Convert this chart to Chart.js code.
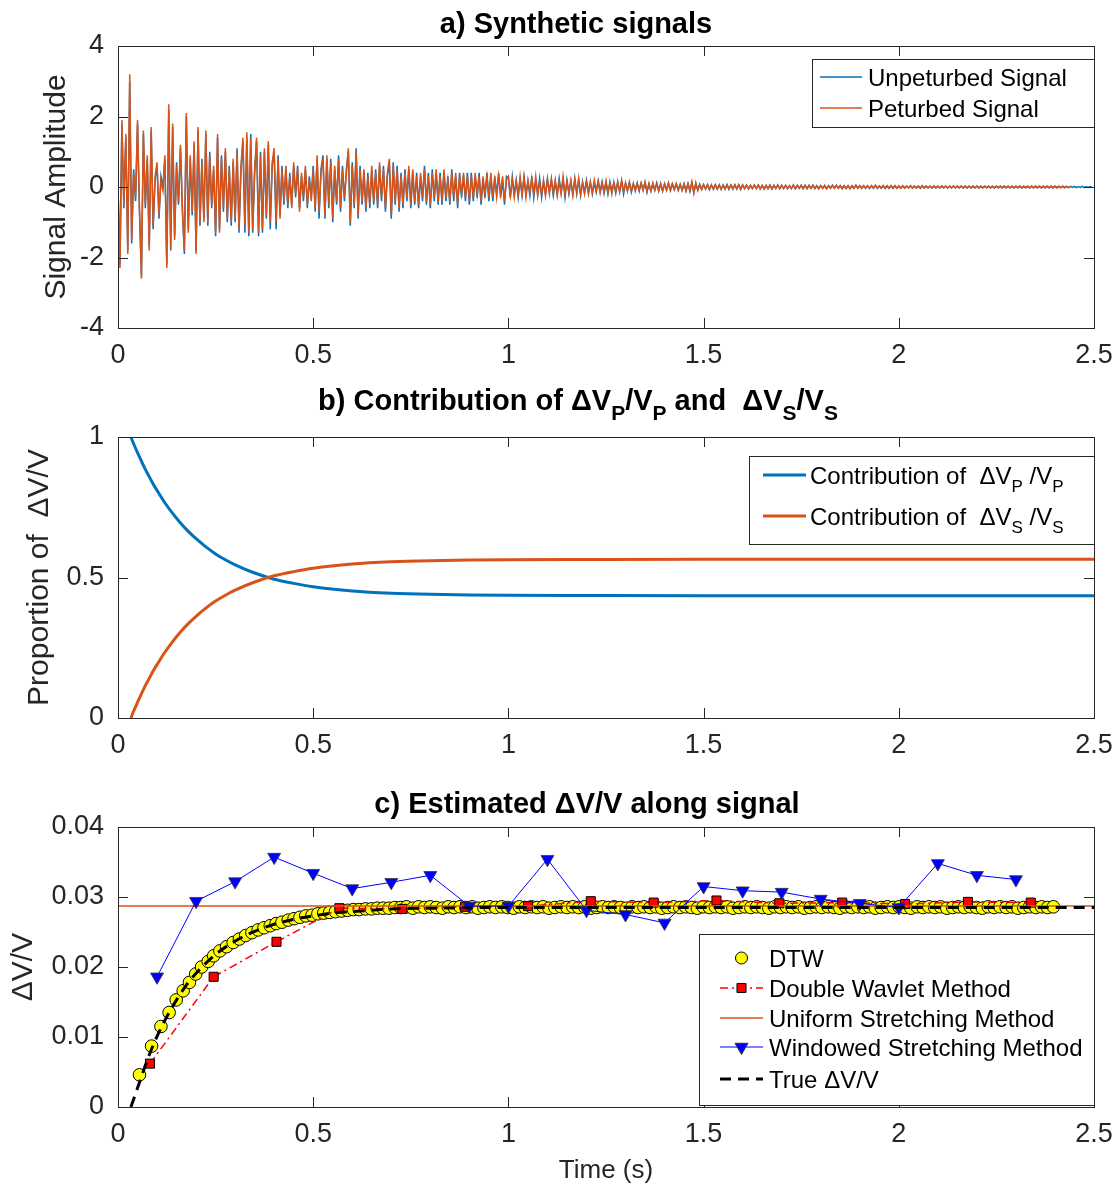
<!DOCTYPE html>
<html><head><meta charset="utf-8">
<script src="https://cdn.jsdelivr.net/npm/chart.js@4"></script>
<style>
html,body{margin:0;padding:0;background:#fff}
body{width:1114px;height:1190px;position:relative;overflow:hidden}
canvas{position:absolute;left:0}
</style></head><body>
<canvas id="ca" width="1114" height="380" style="top:0;width:1114px;height:380px"></canvas>
<canvas id="cb" width="1114" height="390" style="top:380px;width:1114px;height:390px"></canvas>
<canvas id="cc" width="1114" height="420" style="top:770px;width:1114px;height:420px"></canvas>
<script>
// ---------------- DATA ----------------
const xTicks = [0, 0.5, 1, 1.5, 2, 2.5];
const xTickLabels = ['0', '0.5', '1', '1.5', '2', '2.5'];
const aYTicks = [-4, -2, 0, 2, 4];
const aYTickLabels = ['-4', '-2', '0', '2', '4'];
const bYTicks = [0, 0.5, 1];
const bYTickLabels = ['0', '0.5', '1'];
const cYTicks = [0, 0.01, 0.02, 0.03, 0.04];
const cYTickLabels = ['0', '0.01', '0.02', '0.03', '0.04'];

const titleA = 'a) Synthetic signals';
const titleB = [['b) Contribution of \u0394V', 0], ['P', 1], ['/V', 0], ['P', 1], [' and  \u0394V', 0], ['S', 1], ['/V', 0], ['S', 1]];
const titleC = 'c) Estimated \u0394V/V along signal';
const yTitleA = 'Signal Amplitude';
const yTitleB = 'Proportion of  \u0394V/V';
const yTitleC = '\u0394V/V';
const xTitleC = 'Time (s)';

const labelsA = ['Unpeturbed Signal', 'Peturbed Signal'];
const labelsB = [
  [['Contribution of  \u0394V', 0], ['P', 1], [' /V', 0], ['P', 1]],
  [['Contribution of  \u0394V', 0], ['S', 1], [' /V', 0], ['S', 1]]
];
const labelsC = ['DTW', 'Double Wavlet Method', 'Uniform Stretching Method', 'Windowed Stretching Method', 'True \u0394V/V'];

// panel a: sampled signals (sample interval in seconds)
const signalDt = 0.005;
const unperturbed = [
0,-2.2,1.8,-0.6,1.4,-1.8,3.0,-1.6,0.5,-0.4,1.8,-0.7,-2.5,1.5,-0.6,0.8,-1.7,1.6,-1.2,0.2,
0.6,-0.9,0.3,0.0,0.8,-2.2,2.2,-1.8,1.7,-1.4,0.7,-0.5,1.1,-0.7,-1.9,2.0,-1.2,0.8,-0.8,1.2,
-1.8,1.6,-1.1,0.8,-0.9,1.5,-1.1,1.0,-0.6,0.5,-1.4,1.4,-1.2,0.9,-0.7,1.0,-1.0,0.6,-1.1,0.7,
-1.0,1.1,-1.3,0.5,1.3,-1.3,1.4,-1.4,1.5,-1.3,0.4,1.3,-1.4,1.0,-1.3,1.0,-0.9,1.2,-1.2,0.6,
1.0,-1.2,0.9,-0.8,0.6,-0.5,0.5,-0.6,0.4,-0.5,0.6,-0.3,0.6,-0.6,0.3,-0.4,0.5,-0.6,0.3,-0.3,
0.6,-0.7,0.8,-0.9,0.5,0.9,-0.9,0.8,-0.6,0.8,-1.0,0.5,-0.5,0.9,-0.7,0.6,-0.4,0.5,1.0,-1.1,
0.7,-0.6,1.1,-0.9,0.6,-0.5,0.4,-0.7,0.4,-0.6,0.5,-0.5,0.5,-0.6,0.6,-0.4,0.6,-0.7,0.3,0.7,
-0.9,0.7,-0.5,0.6,-0.7,0.4,-0.6,0.5,-0.4,0.5,-0.6,0.4,-0.5,0.4,-0.6,0.3,-0.4,0.6,-0.5,0.4,
-0.6,0.5,-0.4,0.4,-0.5,0.4,-0.5,0.4,-0.4,0.3,-0.5,0.5,-0.4,0.3,-0.6,0.4,-0.3,0.3,-0.4,0.4,
-0.5,0.4,-0.4,0.3,-0.3,0.4,-0.5,0.2,-0.3,0.4,-0.4,0.3,-0.4,0.3,-0.2,0.4,-0.3,0.2,-0.5,0.3,
0.25,-0.3,0.3,-0.2,0.2,-0.3,0.2,-0.25,0.3,-0.2,0.15,-0.25,0.3,-0.3,0.2,-0.2,0.25,-0.3,0.15,-0.2,
0.25,-0.15,0.2,-0.25,0.15,-0.2,0.25,-0.15,0.2,-0.3,0.2,-0.2,0.15,-0.2,0.25,-0.2,0.2,-0.25,0.15,-0.15,
0.2,-0.15,0.15,-0.2,0.12,-0.15,0.18,-0.12,0.15,-0.18,0.12,-0.2,0.15,-0.12,0.1,-0.18,0.15,-0.12,0.15,-0.2,
0.12,-0.1,0.1,-0.15,0.1,-0.08,0.12,-0.12,0.1,-0.08,0.12,-0.15,0.1,-0.12,0.08,-0.1,0.12,-0.1,0.1,-0.12,
0.1,-0.08,0.1,-0.1,0.08,-0.08,0.1,-0.08,0.08,-0.1,0.08,-0.1,0.1,-0.12,0.12,-0.15,0.1,-0.1,0.08,-0.06,
0.07,-0.06,0.06,-0.08,0.06,-0.05,0.07,-0.06,0.05,-0.07,0.06,-0.05,0.06,-0.07,0.05,-0.06,0.07,-0.05,0.06,-0.07,
0.06,-0.05,0.05,-0.06,0.05,-0.04,0.05,-0.05,0.06,-0.05,0.05,-0.06,0.04,-0.05,0.05,-0.06,0.05,-0.04,0.06,-0.05,
0.05,-0.04,0.04,-0.05,0.04,-0.04,0.05,-0.05,0.04,-0.04,0.05,-0.04,0.05,-0.05,0.04,-0.04,0.05,-0.04,0.04,-0.05,
0.04,-0.04,0.03,-0.05,0.04,-0.03,0.05,-0.04,0.04,-0.03,0.04,-0.05,0.03,-0.04,0.04,-0.04,0.03,-0.04,0.05,-0.03,
0.04,-0.03,0.03,-0.04,0.03,-0.04,0.04,-0.03,0.04,-0.04,0.03,-0.03,0.04,-0.04,0.03,-0.04,0.04,-0.03,0.03,-0.04,
0.03,-0.04,0.03,-0.03,0.03,-0.02,0.04,-0.03,0.02,-0.03,0.03,-0.04,0.03,-0.02,0.03,-0.03,0.02,-0.03,0.03,-0.03,
0.02,-0.03,0.03,-0.02,0.03,-0.03,0.02,-0.03,0.03,-0.02,0.03,-0.03,0.02,-0.02,0.03,-0.03,0.02,-0.03,0.03,-0.02,
0.03,-0.02,0.02,-0.03,0.02,-0.02,0.03,-0.02,0.02,-0.03,0.02,-0.02,0.03,-0.02,0.02,-0.02,0.03,-0.02,0.02,-0.03,
0.02,-0.02,0.02,-0.03,0.02,-0.02,0.02,-0.02,0.03,-0.02,0.02,-0.02,0.02,-0.03,0.02,-0.02,0.02,-0.02,0.02,-0.02,
0.02,-0.02,0.02,-0.01,0.02,-0.02,0.01,-0.02,0.02,-0.01,0.02,-0.02,0.01,-0.01,0.02,-0.02,0.01,-0.01,0.01,-0.01
];
const perturbed = [
0,-2.3,1.9,-0.5,1.5,-1.9,3.2,-1.5,0.4,-0.3,1.9,-0.6,-2.6,1.6,-0.5,0.9,-1.8,1.7,-1.1,0.3,
0.7,-0.8,0.2,-0.1,0.9,-2.3,2.35,-1.7,1.8,-1.5,0.6,-0.4,1.2,-0.6,-1.8,2.1,-1.3,0.9,-0.7,1.3,
-1.9,1.7,-1.0,0.7,-1.0,1.6,-1.0,0.9,-0.5,0.6,-1.3,1.5,-1.3,0.8,-0.6,1.1,-0.9,0.5,-1.0,0.8,
-0.9,1.0,-1.2,0.6,1.4,-1.1,1.55,-1.3,1.4,-1.2,0.5,1.4,-1.3,0.9,-1.2,1.1,-0.8,1.3,-1.0,0.7,
1.1,-1.0,0.8,-0.9,0.5,-0.4,0.6,-0.5,0.3,-0.6,0.7,-0.2,0.5,-0.7,0.4,-0.3,0.6,-0.5,0.2,-0.4,
0.5,-0.6,0.9,-0.7,0.4,0.8,-0.8,0.9,-0.5,0.7,-0.9,0.6,-0.4,0.8,-0.6,0.5,-0.3,0.4,1.1,-1.0,
0.6,-0.5,1.0,-0.8,0.5,-0.4,0.5,-0.6,0.3,-0.5,0.6,-0.4,0.4,-0.5,0.7,-0.3,0.5,-0.6,0.4,0.8,
-0.8,0.6,-0.4,0.5,-0.6,0.3,-0.5,0.4,-0.3,0.6,-0.5,0.5,-0.4,0.3,-0.5,0.4,-0.3,0.5,-0.4,0.3,
-0.5,0.4,-0.3,0.5,-0.4,0.3,-0.4,0.5,-0.3,0.2,-0.4,0.4,-0.3,0.4,-0.5,0.3,-0.2,0.4,-0.3,0.3,
-0.4,0.3,-0.3,0.4,-0.2,0.3,-0.4,0.3,-0.2,0.3,-0.3,0.4,-0.3,0.2,-0.3,0.3,-0.2,0.3,-0.4,0.2,
0.3,-0.25,0.2,-0.3,0.15,-0.2,0.3,-0.2,0.25,-0.3,0.2,-0.15,0.25,-0.2,0.3,-0.25,0.15,-0.2,0.2,-0.25,
0.2,-0.2,0.25,-0.15,0.2,-0.25,0.15,-0.2,0.3,-0.2,0.15,-0.15,0.2,-0.25,0.2,-0.15,0.25,-0.2,0.1,-0.2,
0.15,-0.2,0.12,-0.15,0.2,-0.1,0.15,-0.18,0.1,-0.12,0.18,-0.15,0.1,-0.2,0.15,-0.1,0.12,-0.15,0.2,-0.12,
0.1,-0.12,0.15,-0.1,0.08,-0.12,0.1,-0.08,0.12,-0.1,0.15,-0.12,0.08,-0.1,0.12,-0.08,0.1,-0.12,0.08,-0.1,
0.08,-0.1,0.12,-0.08,0.1,-0.06,0.08,-0.1,0.06,-0.08,0.1,-0.12,0.08,-0.1,0.15,-0.18,0.12,-0.08,0.06,-0.08,
0.06,-0.05,0.08,-0.06,0.05,-0.07,0.06,-0.05,0.07,-0.06,0.04,-0.06,0.07,-0.05,0.06,-0.04,0.05,-0.06,0.07,-0.05,
0.05,-0.04,0.06,-0.05,0.04,-0.05,0.06,-0.04,0.05,-0.06,0.04,-0.05,0.05,-0.04,0.06,-0.05,0.04,-0.04,0.05,-0.05,
0.04,-0.05,0.05,-0.04,0.03,-0.05,0.06,-0.04,0.05,-0.03,0.04,-0.05,0.04,-0.04,0.05,-0.03,0.04,-0.05,0.03,-0.04,
0.04,-0.03,0.05,-0.04,0.03,-0.04,0.04,-0.03,0.05,-0.04,0.03,-0.03,0.04,-0.04,0.03,-0.05,0.04,-0.03,0.04,-0.04,
0.03,-0.04,0.04,-0.03,0.04,-0.03,0.03,-0.04,0.05,-0.03,0.03,-0.04,0.03,-0.03,0.04,-0.03,0.03,-0.04,0.04,-0.03,
0.03,-0.03,0.04,-0.03,0.02,-0.03,0.03,-0.04,0.03,-0.02,0.03,-0.03,0.04,-0.03,0.03,-0.02,0.03,-0.03,0.02,-0.03,
0.03,-0.02,0.03,-0.03,0.02,-0.03,0.03,-0.02,0.03,-0.03,0.02,-0.02,0.03,-0.03,0.02,-0.03,0.03,-0.02,0.02,-0.03,
0.02,-0.03,0.02,-0.02,0.03,-0.02,0.02,-0.03,0.02,-0.02,0.03,-0.02,0.02,-0.02,0.03,-0.02,0.02,-0.03,0.02,-0.02,
0.02,-0.02,0.03,-0.02,0.02,-0.02,0.02,-0.03,0.02,-0.02,0.02,-0.02,0.03,-0.02,0.02,-0.02,0.02,-0.02,0.03,-0.02,
0.02,-0.02,0.02,-0.02,0.02,-0.02,0.02,-0.02,0.01
];

// panel b
const contribTime = [0.033,0.04,0.05,0.06,0.07,0.08,0.09,0.1,0.12,0.14,0.16,0.18,0.2,0.225,0.25,0.275,0.3,0.35,0.4,0.45,0.5,0.6,0.7,0.8,0.9,1.0,1.2,1.5,2.0,2.5];
const contribP = [1,0.976,0.944,0.914,0.885,0.859,0.833,0.810,0.766,0.728,0.694,0.664,0.638,0.609,0.584,0.563,0.545,0.516,0.494,0.479,0.467,0.452,0.444,0.440,0.438,0.437,0.436,0.435,0.435,0.435];
const contribS = [0,0.024,0.056,0.086,0.115,0.141,0.167,0.190,0.234,0.272,0.306,0.336,0.362,0.391,0.416,0.437,0.455,0.484,0.506,0.521,0.533,0.548,0.556,0.560,0.562,0.563,0.564,0.565,0.565,0.565];

// panel c
const dtwTime = [0.055,0.086,0.110,0.131,0.149,0.167,0.183,0.199,0.214,0.231,0.245,0.261,0.278,0.295,0.311,0.327,0.343,0.359,0.374,0.390,0.405,0.420,0.436,0.451,0.466,0.481,0.497,0.512,0.527,0.542,0.557,0.573,0.588,0.603,0.618,0.634,0.649,0.664,0.679,0.694,0.709,
0.724,0.739,0.755,0.770,0.785,0.800,0.815,0.831,0.846,0.861,0.876,0.891,0.907,0.922,0.937,0.952,0.967,0.983,0.998,1.013,
1.028,1.043,1.059,1.074,1.089,1.104,1.119,1.135,1.150,1.165,1.180,1.195,1.211,1.226,1.241,1.256,1.271,1.287,1.302,1.317,
1.332,1.347,1.363,1.378,1.393,1.408,1.423,1.439,1.454,1.469,1.484,1.499,1.515,1.530,1.545,1.560,1.575,1.591,1.606,1.621,
1.636,1.651,1.667,1.682,1.697,1.712,1.727,1.743,1.758,1.773,1.788,1.803,1.819,1.834,1.849,1.864,1.879,1.895,1.910,1.925,
1.940,1.955,1.971,1.986,2.001,2.016,2.031,2.047,2.062,2.077,2.092,2.107,2.123,2.138,2.153,2.168,2.183,2.199,2.214,2.229,
2.244,2.259,2.275,2.290,2.305,2.320,2.335,2.351,2.366,2.381,2.396];
const dtwDvv = [0.0046,0.0087,0.0115,0.0135,0.0153,0.0166,0.0178,0.0190,0.0200,0.0208,0.0216,0.0223,0.0229,0.0235,0.0240,0.0245,0.0249,0.0253,0.0256,0.0259,0.0262,0.0264,0.0267,0.0269,0.0271,0.0273,0.0274,0.0276,0.0277,0.0278,0.0279,0.0280,0.0281,0.0282,0.0282,0.0283,0.0283,0.0284,0.0284,0.0284,0.0285,
0.0285,0.0286,0.0284,0.0286,0.0285,0.0286,0.0285,0.0284,0.0286,0.0285,0.0286,0.0285,0.0286,0.0284,0.0285,0.0286,0.0285,0.0286,0.0285,0.0284,
0.0286,0.0285,0.0286,0.0285,0.0286,0.0284,0.0285,0.0286,0.0285,0.0286,0.0285,0.0286,0.0284,0.0285,0.0286,0.0285,0.0286,0.0285,0.0284,0.0286,
0.0285,0.0286,0.0285,0.0286,0.0284,0.0285,0.0286,0.0285,0.0286,0.0285,0.0284,0.0286,0.0285,0.0286,0.0285,0.0286,0.0284,0.0285,0.0286,0.0285,
0.0286,0.0285,0.0284,0.0286,0.0285,0.0286,0.0285,0.0286,0.0284,0.0285,0.0286,0.0285,0.0286,0.0285,0.0284,0.0286,0.0285,0.0286,0.0285,0.0286,
0.0284,0.0285,0.0286,0.0285,0.0286,0.0285,0.0284,0.0286,0.0285,0.0286,0.0285,0.0286,0.0284,0.0285,0.0286,0.0285,0.0286,0.0285,0.0284,0.0286,
0.0285,0.0286,0.0285,0.0286,0.0284,0.0285,0.0286,0.0285,0.0286,0.0285,0.0286];
const dwmTime = [0.082,0.245,0.406,0.567,0.728,0.889,1.050,1.211,1.372,1.533,1.694,1.855,2.016,2.177,2.338];
const dwmDvv = [0.0062,0.0186,0.0236,0.0284,0.0283,0.0286,0.0287,0.0294,0.0292,0.0295,0.0291,0.0292,0.0290,0.0293,0.0292];
const usmTime = [0, 2.5];
const usmDvv = [0.0287, 0.0287];
const wsmTime = [0.1,0.2,0.3,0.4,0.5,0.6,0.7,0.8,0.9,1.0,1.1,1.2,1.3,1.4,1.5,1.6,1.7,1.8,1.9,2.0,2.1,2.2,2.3];
const wsmDvv = [0.0186,0.0294,0.0322,0.0357,0.0334,0.0312,0.0321,0.0331,0.0287,0.0287,0.0354,0.0281,0.0275,0.0263,0.0315,0.0309,0.0307,0.0297,0.0291,0.0285,0.0348,0.0331,0.0325];
const trueTime = [0.033,0.05,0.075,0.1,0.125,0.15,0.175,0.2,0.25,0.3,0.35,0.4,0.45,0.5,0.55,0.6,0.7,0.8,1.0,1.5,2.0,2.5];
const trueDvv = [0.0,0.0027,0.0067,0.0101,0.0129,0.0153,0.0174,0.0191,0.0218,0.0237,0.0251,0.0261,0.0268,0.0273,0.0277,0.0279,0.0283,0.0284,0.0285,0.0285,0.0285,0.0285];

// ---------------- RENDERING ----------------
const FONT = "'Liberation Sans', Arial, Helvetica, sans-serif";
const TXT = '#262626';
const BLUE = '#0072BD', ORANGE = '#D95319';

function pts(xs, ys) { const n = Math.min(xs.length, ys.length); const out = []; for (let i = 0; i < n; i++) out.push({x: xs[i], y: ys[i]}); return out; }
function sampled(vals) { return vals.map((v, i) => ({x: i * signalDt, y: v})); }

function drawRich(ctx, parts, x, y, size, bold, align) {
  const w = bold ? 'bold ' : '';
  const mainF = w + size + 'px ' + FONT;
  const subF = w + Math.round(size * 0.72) + 'px ' + FONT;
  let total = 0;
  parts.forEach(p => { ctx.font = p[1] ? subF : mainF; total += ctx.measureText(p[0]).width; });
  let cx = align === 'center' ? x - total / 2 : x;
  ctx.textAlign = 'left'; ctx.textBaseline = 'alphabetic';
  parts.forEach(p => {
    ctx.font = p[1] ? subF : mainF;
    ctx.fillText(p[0], cx, p[1] ? y + size * 0.36 : y);
    cx += ctx.measureText(p[0]).width;
  });
}

function drawMarker(ctx, m, x, y) {
  ctx.save(); ctx.setLineDash([]);
  ctx.fillStyle = m.fill; ctx.strokeStyle = m.stroke; ctx.lineWidth = 1;
  ctx.beginPath();
  if (m.shape === 'circle') ctx.arc(x, y, m.r, 0, Math.PI * 2);
  else if (m.shape === 'square') ctx.rect(x - m.r * 0.7071, y - m.r * 0.7071, m.r * 1.4142, m.r * 1.4142);
  else { ctx.moveTo(x, y + m.r); ctx.lineTo(x - m.r * 0.866, y - m.r / 2); ctx.lineTo(x + m.r * 0.866, y - m.r / 2); ctx.closePath(); }
  ctx.fill(); ctx.stroke(); ctx.restore();
}

function drawLegend(ctx, L) {
  ctx.save();
  ctx.fillStyle = '#fff'; ctx.fillRect(L.x, L.y, L.w, L.h);
  ctx.strokeStyle = TXT; ctx.lineWidth = 1; ctx.setLineDash([]);
  ctx.strokeRect(L.x + 0.5, L.y + 0.5, L.w, L.h);
  L.items.forEach(it => {
    if (it.line) {
      ctx.save(); ctx.strokeStyle = it.line.color; ctx.lineWidth = it.line.width; ctx.setLineDash(it.line.dash || []);
      ctx.beginPath(); ctx.moveTo(L.lx0, it.y); ctx.lineTo(L.lx1, it.y); ctx.stroke(); ctx.restore();
    }
    if (it.marker) drawMarker(ctx, it.marker, (L.lx0 + L.lx1) / 2, it.y);
    ctx.fillStyle = '#000';
    const parts = typeof it.text === 'string' ? [[it.text, 0]] : it.text;
    drawRich(ctx, parts, L.tx, it.y + 8.6, 24, false, 'left');
  });
  ctx.restore();
}

const frame = {
  id: 'frame',
  afterDraw(chart, args, opts) {
    const {ctx, chartArea: a, scales: {x, y}} = chart;
    ctx.save();
    ctx.strokeStyle = TXT; ctx.lineWidth = 1; ctx.setLineDash([]);
    ctx.beginPath();
    x.ticks.forEach(t => {
      const px = Math.round(x.getPixelForValue(t.value)) + 0.5;
      ctx.moveTo(px, a.bottom); ctx.lineTo(px, a.bottom - 10);
      ctx.moveTo(px, a.top); ctx.lineTo(px, a.top + 10);
    });
    y.ticks.forEach(t => {
      const py = Math.round(y.getPixelForValue(t.value)) + 0.5;
      ctx.moveTo(a.left, py); ctx.lineTo(a.left + 10, py);
      ctx.moveTo(a.right, py); ctx.lineTo(a.right - 10, py);
    });
    ctx.stroke();
    ctx.strokeRect(Math.round(a.left) + 0.5, Math.round(a.top) + 0.5, Math.round(a.right - a.left), Math.round(a.bottom - a.top));
    if (opts.legend) drawLegend(ctx, opts.legend);
    if (opts.title) {
      ctx.fillStyle = '#000';
      const parts = typeof opts.title.text === 'string' ? [[opts.title.text, 0]] : opts.title.text;
      drawRich(ctx, parts, opts.title.x, opts.title.y, 29, true, 'center');
    }
    ctx.restore();
  }
};

function makeScales(o) {
  return {
    x: {
      type: 'linear', min: 0, max: 2.5,
      afterBuildTicks: s => { s.ticks = xTicks.map(v => ({value: v})); },
      afterFit: s => { s.height = o.xh; s.paddingLeft = 0; s.paddingRight = 0; },
      grid: {display: false, drawTicks: false}, border: {display: false},
      ticks: {autoSkip: false, maxRotation: 0, minRotation: 0, padding: 11, color: TXT,
              font: {family: FONT, size: 27}, callback: (v, i) => xTickLabels[i]},
      title: o.xTitle ? {display: true, text: o.xTitle, color: TXT, font: {family: FONT, size: 26}, padding: {top: 0, bottom: 4}} : {display: false}
    },
    y: {
      type: 'linear', min: o.ymin, max: o.ymax,
      afterBuildTicks: s => { s.ticks = o.yTicks.map(v => ({value: v})); },
      afterFit: s => { s.width = 118; s.paddingTop = 0; s.paddingBottom = 0; },
      grid: {display: false, drawTicks: false}, border: {display: false},
      ticks: {autoSkip: false, padding: 14, color: TXT, font: {family: FONT, size: 27}, callback: (v, i) => o.yLabels[i]},
      title: {display: true, text: o.yTitle, color: TXT, font: {family: FONT, size: 30}, padding: {top: o.ytPad, bottom: 0}}
    }
  };
}

function baseOptions(o, frameOpts) {
  return {
    responsive: false, animation: false, devicePixelRatio: 1,
    layout: {padding: {top: o.top, right: 20, bottom: 0, left: 0}},
    scales: makeScales(o),
    plugins: {legend: {display: false}, tooltip: {enabled: false}, title: {display: false}, frame: frameOpts},
    elements: {line: {tension: 0}}
  };
}

// Panel a
new Chart(document.getElementById('ca'), {
  type: 'line',
  data: {datasets: [
    {label: labelsA[0], data: sampled(unperturbed), borderColor: BLUE, borderWidth: 1.5, pointRadius: 0, order: 2},
    {label: labelsA[1], data: sampled(perturbed), borderColor: ORANGE, borderWidth: 1.5, pointRadius: 0, order: 1}
  ]},
  options: baseOptions({top: 46, xh: 52, ymin: -4, ymax: 4, yTicks: aYTicks, yLabels: aYTickLabels, yTitle: yTitleA, ytPad: 39},
    {title: {text: titleA, x: 576, y: 33},
     legend: {x: 812, y: 59, w: 282, h: 68, lx0: 820, lx1: 862, tx: 868, items: [
       {y: 77, text: labelsA[0], line: {color: BLUE, width: 1.5}},
       {y: 108, text: labelsA[1], line: {color: ORANGE, width: 1.5}}
     ]}}),
  plugins: [frame]
});

// Panel b
new Chart(document.getElementById('cb'), {
  type: 'line',
  data: {datasets: [
    {label: 'Contribution of \u0394VP/VP', data: pts(contribTime, contribP), borderColor: BLUE, borderWidth: 3, pointRadius: 0, cubicInterpolationMode: 'monotone', order: 2},
    {label: 'Contribution of \u0394VS/VS', data: pts(contribTime, contribS), borderColor: ORANGE, borderWidth: 3, pointRadius: 0, cubicInterpolationMode: 'monotone', order: 1}
  ]},
  options: baseOptions({top: 57, xh: 52, ymin: 0, ymax: 1, yTicks: bYTicks, yLabels: bYTickLabels, yTitle: yTitleB, ytPad: 22},
    {title: {text: titleB, x: 578, y: 30},
     legend: {x: 749, y: 76, w: 345, h: 88, lx0: 763, lx1: 806, tx: 810, items: [
       {y: 95, text: labelsB[0], line: {color: BLUE, width: 3}},
       {y: 136, text: labelsB[1], line: {color: ORANGE, width: 3}}
     ]}}),
  plugins: [frame]
});

// Panel c
new Chart(document.getElementById('cc'), {
  type: 'line',
  data: {datasets: [
    {label: labelsC[0], data: pts(dtwTime, dtwDvv), showLine: false, pointStyle: 'circle', pointRadius: 6.3,
     pointBackgroundColor: '#FFFF00', pointBorderColor: '#000', pointBorderWidth: 1, order: 5},
    {label: labelsC[1], data: pts(dwmTime, dwmDvv), borderColor: '#FF0000', borderWidth: 1.5, borderDash: [8, 4, 2, 4],
     pointStyle: 'rect', pointRadius: 6.4, pointBackgroundColor: '#FF0000', pointBorderColor: '#000', pointBorderWidth: 1, order: 4},
    {label: labelsC[2], data: pts(usmTime, usmDvv), borderColor: ORANGE, borderWidth: 1.5, pointRadius: 0, order: 3},
    {label: labelsC[3], data: pts(wsmTime, wsmDvv), borderColor: '#0000FF', borderWidth: 1,
     pointStyle: 'triangle', rotation: 180, pointRadius: 7.5, pointBackgroundColor: '#0000FF', pointBorderColor: '#333', pointBorderWidth: 0.8, order: 2},
    {label: labelsC[4], data: pts(trueTime, trueDvv), borderColor: '#000', borderWidth: 3, borderDash: [11, 7], pointRadius: 0,
     cubicInterpolationMode: 'monotone', order: 1}
  ]},
  options: baseOptions({top: 57, xh: 83, ymin: 0, ymax: 0.04, yTicks: cYTicks, yLabels: cYTickLabels, yTitle: yTitleC, ytPad: 6, xTitle: xTitleC},
    {title: {text: titleC, x: 587, y: 43},
     legend: {x: 699, y: 164, w: 395, h: 171, lx0: 720, lx1: 763, tx: 769, items: [
       {y: 188, text: labelsC[0], marker: {shape: 'circle', r: 6, fill: '#FFFF00', stroke: '#000'}},
       {y: 218, text: labelsC[1], line: {color: '#FF0000', width: 1.5, dash: [8, 4, 2, 4]}, marker: {shape: 'square', r: 6.4, fill: '#FF0000', stroke: '#000'}},
       {y: 248, text: labelsC[2], line: {color: ORANGE, width: 1.5}},
       {y: 277, text: labelsC[3], line: {color: '#0000FF', width: 1}, marker: {shape: 'tri', r: 7.5, fill: '#0000FF', stroke: '#333'}},
       {y: 309, text: labelsC[4], line: {color: '#000', width: 3, dash: [11, 7]}}
     ]}}),
  plugins: [frame]
});
</script>
</body></html>
